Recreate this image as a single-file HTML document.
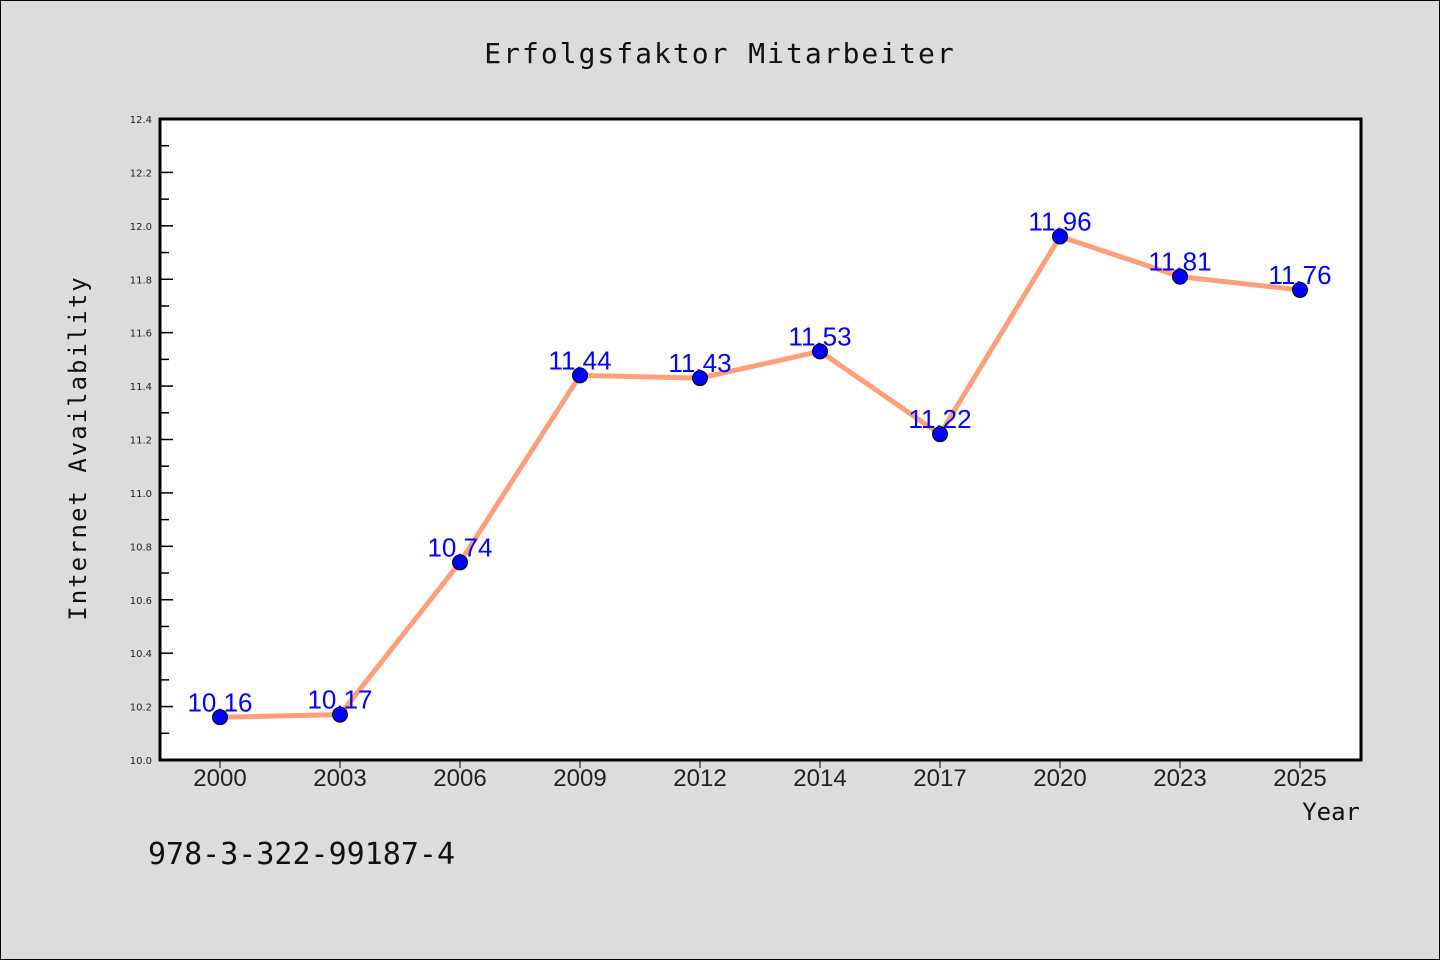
<!DOCTYPE html>
<html><head><meta charset="utf-8"><style>
html,body{margin:0;padding:0;background:#dcdcdc;}
svg{display:block;}
</style></head><body>
<svg width="1440" height="960" xmlns="http://www.w3.org/2000/svg">
<rect x="0.5" y="0.5" width="1439" height="959" fill="#dcdcdc" stroke="#000"/>
<text x="720" y="63" text-anchor="middle" font-family="'WenQuanYi Zen Hei','DejaVu Sans Mono',monospace" font-size="28" letter-spacing="2" fill="#111">Erfolgsfaktor Mitarbeiter</text>
<rect x="160" y="119" width="1201" height="641" fill="#fff"/>
<g id="yticks"></g>
<g id="xticks"></g>
<polyline id="line" fill="none" stroke="#ffa07a" stroke-width="5" stroke-linejoin="round"/>
<g id="points"></g>
<g id="labels"></g>
<rect x="160" y="119" width="1201" height="641" fill="none" stroke="#000" stroke-width="3"/>
<text x="86" y="448" transform="rotate(-90 86 448)" text-anchor="middle" font-family="'WenQuanYi Zen Hei','DejaVu Sans Mono',monospace" font-size="24" letter-spacing="2" fill="#111">Internet Availability</text>
<text x="1360" y="820" text-anchor="end" font-family="'WenQuanYi Zen Hei','DejaVu Sans Mono',monospace" font-size="24" fill="#111">Year</text>
<text x="148" y="864" font-family="'WenQuanYi Zen Hei','DejaVu Sans Mono',monospace" font-size="30" fill="#111">978-3-322-99187-4</text>
</svg>
<script>
const categories=["2000","2003","2006","2009","2012","2014","2017","2020","2023","2025"];
const values=[10.16,10.17,10.74,11.44,11.43,11.53,11.22,11.96,11.81,11.76];
const valueLabels=["10.16","10.17","10.74","11.44","11.43","11.53","11.22","11.96","11.81","11.76"];
const yTickLabels=["10.0","10.2","10.4","10.6","10.8","11.0","11.2","11.4","11.6","11.8","12.0","12.2","12.4"];
const yMin=10.0,yMax=12.4;
const NS="http://www.w3.org/2000/svg";
function ys(v){return 760-(v-yMin)/(yMax-yMin)*641;}
function xs(i){return 220+i*120;}
function mk(t,a,p){const e=document.createElementNS(NS,t);for(const k in a)e.setAttribute(k,a[k]);p.appendChild(e);return e;}
const yt=document.getElementById('yticks');
yTickLabels.forEach((l,i)=>{
 const v=parseFloat(l),y=ys(v);
 const t=mk('line',{x1:160,x2:173,y1:y,y2:y,stroke:'#000','stroke-width':1.5},yt);
 
 
 const tx=mk('text',{x:152,y:y+4,'text-anchor':'end','font-family':'DejaVu Sans,sans-serif','font-size':10,fill:'#222'},yt);
 tx.textContent=l;
 
 
 if(i<yTickLabels.length-1){
  const ym=ys(v+0.1);
  const m=mk('line',{x1:160,x2:169,y1:ym,y2:ym,stroke:'#000','stroke-width':1.5},yt);
  
  
 }
});
const xt=document.getElementById('xticks');
categories.forEach((c,i)=>{
 const x=xs(i);
 const t=mk('line',{x1:x,x2:x,y1:760,y2:768,stroke:'#000','stroke-width':1},xt);
 
 
 const tx=mk('text',{x:x,y:786,'text-anchor':'middle','font-family':'Liberation Sans,sans-serif','font-size':24,fill:'#222'},xt);
 tx.textContent=c;
 
 
});
document.getElementById('line').setAttribute('points',values.map((v,i)=>xs(i)+','+ys(v)).join(' '));
const pg=document.getElementById('points'),lg=document.getElementById('labels');
values.forEach((v,i)=>{
 const c=mk('circle',{cx:xs(i),cy:ys(v),r:7.5,fill:'#0000ff',stroke:'#000','stroke-width':1},pg);
 
 
 const t=mk('text',{x:xs(i),y:ys(v)-6,'text-anchor':'middle','font-family':'Liberation Sans,sans-serif','font-size':26,fill:'#0000ff'},lg);
 t.textContent=valueLabels[i];
 
 
});
</script>
</body></html>
